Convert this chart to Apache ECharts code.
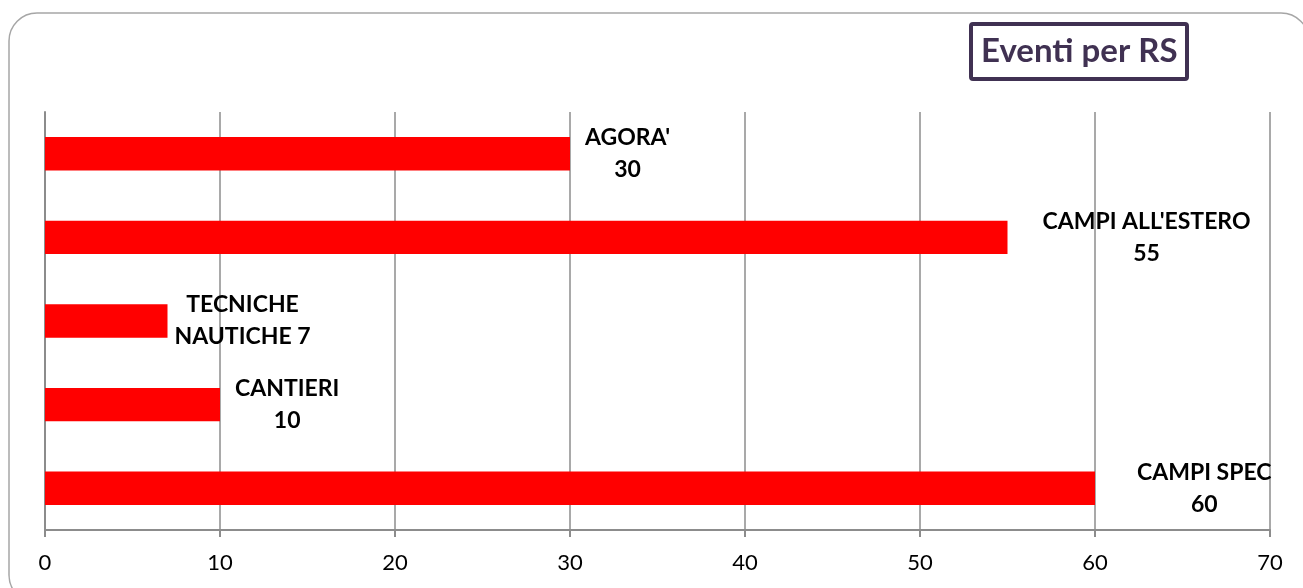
<html>
<head>
    <meta charset="utf-8" />
    <title>Eventi per RS</title>
    <script src="https://cdnjs.cloudflare.com/ajax/libs/echarts/6.0.0/echarts.min.js"></script>
    <style>
        body { margin: 0; background: #ffffff; }
    </style>
</head>
<body>
    <div id="eventiChart" style="width: 1303px;height:588px;"></div>
    <script type="text/javascript">
        // categories, top to bottom
        var categories = ["AGORA'", "CAMPI ALL'ESTERO", "TECNICHE\nNAUTICHE", "CANTIERI", "CAMPI SPEC"];
        var eventi = [30, 55, 7, 10, 60];
        var axisMax = 70;
        var axisStep = 10;

        // small per-label nudges, like the hand-placed labels in the original
        var labelNudge = [0, 20, -8, 0, 27];

        var chartDom = document.getElementById('eventiChart');
        var chart = echarts.init(chartDom);

        var barData = eventi.map(function (v, i) {
            return { value: v, label: { offset: [labelNudge[i], 0] } };
        });

        var option = {
            animation: false,
            title: {
                text: 'Eventi per RS',
                left: 971,
                top: 24,
                padding: [11, 10, 11, 10],
                borderColor: '#403152',
                borderWidth: 4,
                borderRadius: 2,
                textStyle: {
                    color: '#403152',
                    fontFamily: 'Lato',
                    fontWeight: 'bold',
                    fontSize: 33
                }
            },
            graphic: [{
                type: 'rect',
                shape: { x: 9, y: 13, width: 1300, height: 590, r: 28 },
                style: { fill: 'none', stroke: '#a6a6a6', lineWidth: 1.5 },
                silent: true
            }],
            grid: { left: 45, right: 33, top: 112, bottom: 58 },
            xAxis: {
                type: 'value',
                min: 0,
                max: axisMax,
                interval: axisStep,
                axisLine: { show: true, lineStyle: { color: '#8c8c8c', width: 2 } },
                axisTick: { show: true, length: 7, lineStyle: { color: '#8c8c8c', width: 2 } },
                splitLine: { show: true, lineStyle: { color: '#8c8c8c', width: 1.5 } },
                axisLabel: { color: '#000', fontFamily: 'Lato', fontSize: 22, margin: 22 }
            },
            yAxis: {
                type: 'category',
                inverse: true,
                data: categories,
                axisLine: { show: true, lineStyle: { color: '#8c8c8c', width: 2 } },
                axisTick: { show: false },
                axisLabel: { show: false }
            },
            series: [{
                type: 'bar',
                data: barData,
                barWidth: '40%',
                itemStyle: { color: '#ff0000' },
                label: {
                    show: true,
                    position: 'right',
                    distance: 15,
                    formatter: function (p) {
                        var sep = p.name.indexOf('\n') >= 0 ? ' ' : '\n';
                        return (p.name + sep + p.value).split('\n').map(function (s) {
                            return '{a|' + s + '}';
                        }).join('\n');
                    },
                    rich: {
                        a: {
                            align: 'center',
                            color: '#000',
                            fontFamily: 'Lato',
                            fontWeight: 'bold',
                            fontSize: 23,
                            lineHeight: 32
                        }
                    }
                }
            }]
        };
        option && chart.setOption(option);
    </script>
</body>
</html>
